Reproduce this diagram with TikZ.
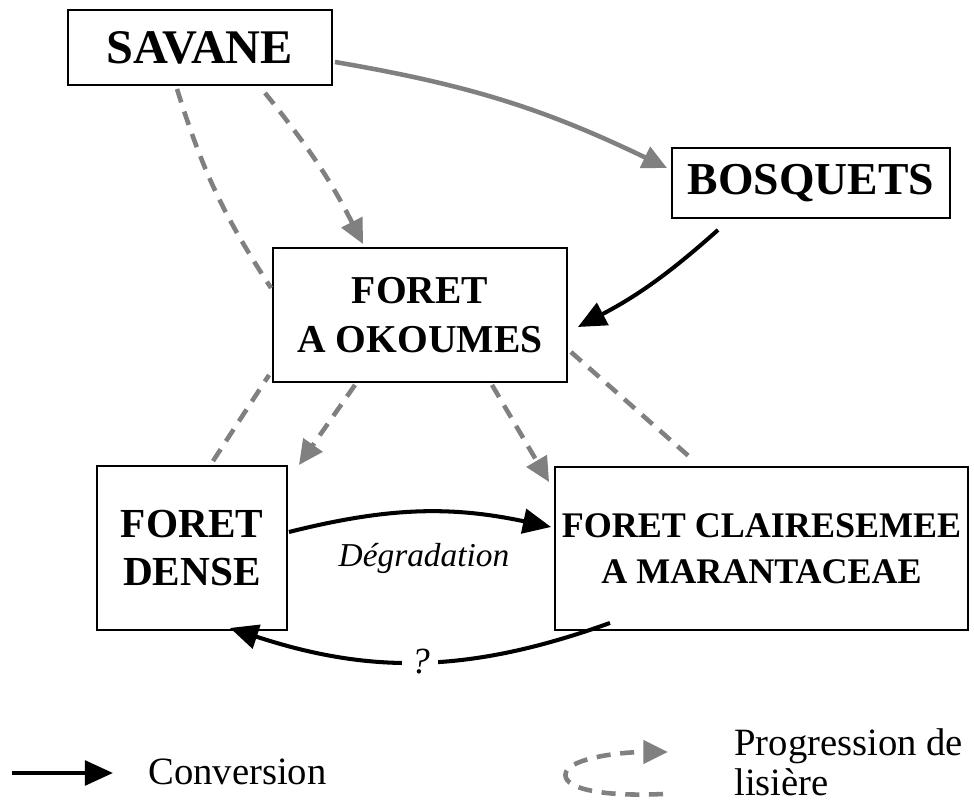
\documentclass[tikz,border=0pt]{standalone}
\usepackage{fontspec}
\setmainfont{Liberation Serif}
\usetikzlibrary{arrows.meta}
\definecolor{lisgray}{RGB}{128,128,128}
\begin{document}
\begin{tikzpicture}[
  x=0.02cm, y=0.02cm,
  box/.style={draw, line width=1.1pt, inner sep=0pt, align=center},
  conv/.style={-{Triangle[length=16pt,width=14pt]}, line width=2.3pt, black},
  prog/.style={-{Triangle[length=14pt,width=13pt]}, line width=2.6pt, lisgray, dash pattern=on 8pt off 5.5pt},
  lis/.style={line width=2.6pt, lisgray, dash pattern=on 8pt off 5.5pt},
  colon/.style={-{Triangle[length=14pt,width=13pt]}, line width=2.6pt, lisgray}
]
\useasboundingbox (0,0) rectangle (974,-803);

%% Formations
\node[box, minimum width=5.28cm, minimum height=1.5cm, font=\bfseries\fontsize{27.5}{32}\selectfont] (savane) at (200,-47.5) {SAVANE};
\node[box, minimum width=5.56cm, minimum height=1.4cm, font=\bfseries\fontsize{26}{30}\selectfont] (bosquets) at (811,-183) {BOSQUETS};
\node[box, minimum width=5.88cm, minimum height=2.68cm, font=\bfseries\fontsize{22.5}{28}\selectfont] (okoumes) at (420,-315) {FORET\\A OKOUMES};
\node[box, minimum width=3.8cm, minimum height=3.28cm, font=\bfseries\fontsize{23.5}{27}\selectfont] (dense) at (192,-548) {FORET\\DENSE};
\node[box, minimum width=8.26cm, minimum height=3.26cm, font=\bfseries\fontsize{20.5}{26}\selectfont] (claire) at (761.5,-548.5) {FORET CLAIRESEMEE\\A MARANTACEAE};

%% Conversions
\draw[colon] ([shift={(2,-14.5)}]savane.east) to[bend left=8] ([shift={(-4,15)}]bosquets.west);
\draw[conv] ([shift={(-93,-11)}]bosquets.south) to[bend left=7] ([shift={(10,-12)}]okoumes.east);
\draw[conv] ([shift={(1,16)}]dense.east) to[bend left=13] ([shift={(-3,21.5)}]claire.west);
\node[font=\itshape\fontsize{19}{22}\selectfont] (degr) at (424,-558) {Dégradation};
\draw[conv] ([shift={(-151.5,8)}]claire.south) to[bend left=19]
  node[midway, fill=white, inner sep=5pt, font=\itshape\fontsize{21}{24}\selectfont] (quest) {?}
  ([shift={(38,3)}]dense.south);

%% Progression de lisiere
\draw[prog] ([shift={(65,-7)}]savane.south) to[bend left=6] ([shift={(-57,3)}]okoumes.north);
\draw[lis] ([shift={(-23,-3)}]savane.south) to[bend right=8] ([shift={(-1,27)}]okoumes.west);
\draw[prog] ([shift={(-65,-2)}]okoumes.south) -- ([shift={(11,0)}]dense.north east);
\draw[prog] ([shift={(72,-2)}]okoumes.south) -- ([shift={(-5,-16)}]claire.north west);
\draw[lis] ([shift={(21,4)}]dense.north) -- ([shift={(-3,-60)}]okoumes.west);
\draw[lis] ([shift={(3,-37)}]okoumes.east) -- ([shift={(-69.5,7)}]claire.north);

%% Legend
\coordinate (convA) at (12,-773);
\coordinate (convB) at (113,-773);
\draw[conv] (convA) -- (convB);
\node[anchor=west, inner sep=0pt, font=\fontsize{22}{24}\selectfont] (convlbl) at (148,-772) {Conversion};
\coordinate (progA) at (663,-794);
\coordinate (progB) at (668,-752);
\draw[prog] (progA) .. controls (600,-797) and (560,-788) .. (566,-772)
  .. controls (572,-758) and (620,-752) .. (progB);
\node[anchor=west, inner sep=0pt, align=left, font=\fontsize{22}{23}\selectfont] (proglbl) at (734,-762) {Progression de\\lisière};
\end{tikzpicture}
\end{document}
